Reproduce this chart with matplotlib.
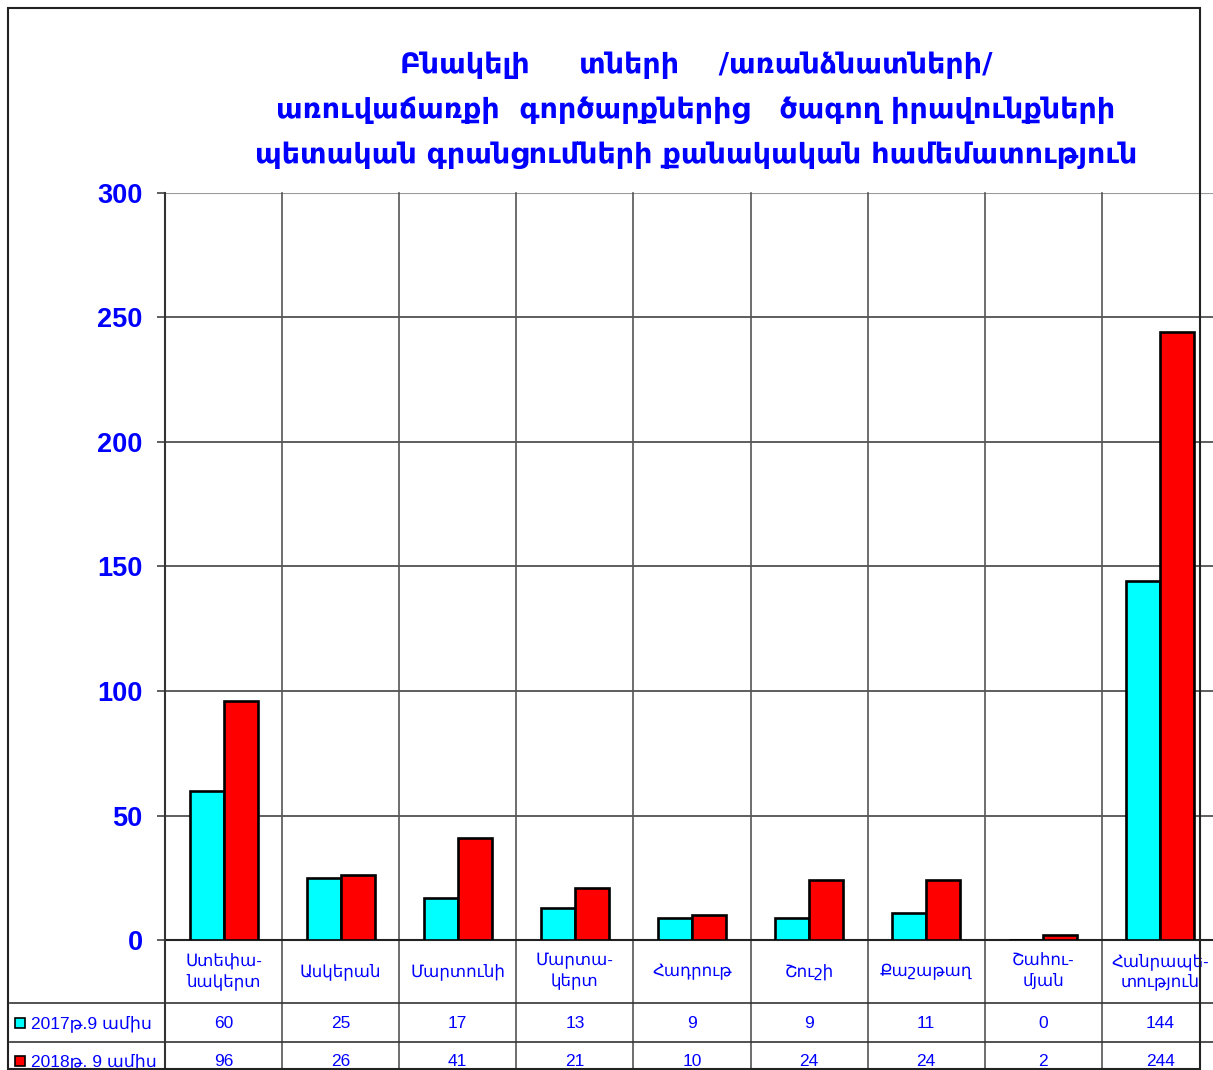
import matplotlib
matplotlib.use("Agg")
import matplotlib.pyplot as plt
from matplotlib.patches import Rectangle
from matplotlib.lines import Line2D
import matplotlib.transforms as mtrans

categories = ["Ստեփա-\nնակերտ", "Ասկերան", "Մարտունի", "Մարտա-\nկերտ", "Հադրութ",
              "Շուշի", "Քաշաթաղ", "Շահու-\nմյան", "Հանրապե-\nտություն"]
series_names = ["2017թ.9 ամիս", "2018թ. 9 ամիս"]
values_2017 = [60, 25, 17, 13, 9, 9, 11, 0, 144]
values_2018 = [96, 26, 41, 21, 10, 24, 24, 2, 244]
yticks = [0, 50, 100, 150, 200, 250, 300]
title_lines = ["Բնակելի     տների    /առանձնատների/",
               "առուվաճառքի  գործարքներից   ծագող իրավունքների",
               "պետական գրանցումների քանակական համեմատություն"]

W, H = 1213, 1070
fig = plt.figure(figsize=(W / 100, H / 100), dpi=100)
BLUE = "#0000ff"
CYAN = "#00ffff"
RED = "#ff0000"

def fx(px):
    return px / W

def fy(py):
    return 1 - py / H

ax_l, ax_r, ax_t, ax_b = 165, 1219, 193, 940
ax = fig.add_axes([fx(ax_l), fy(ax_b), fx(ax_r - ax_l), fy(ax_t) - fy(ax_b)])
ax.set_xlim(-0.5, len(categories) - 0.5)
ax.set_ylim(0, 300)

bw = 0.29
xs = list(range(len(categories)))
ax.bar([x - bw / 2 for x in xs], values_2017, width=bw, color=CYAN,
       edgecolor="black", linewidth=1.9, zorder=3)
ax.bar([x + bw / 2 for x in xs], values_2018, width=bw, color=RED,
       edgecolor="black", linewidth=1.9, zorder=3)

for v in yticks[1:-1]:
    ax.axhline(v, color="#333333", linewidth=1.1, zorder=1)
ax.axhline(300, color="#999999", linewidth=1.5, zorder=1)

ax.set_yticks(yticks)
ax.set_yticklabels([str(v) for v in yticks], fontsize=19.5, fontweight="bold",
                   color=BLUE, family="Liberation Sans")
ax.tick_params(axis="y", length=6, width=1.1, pad=10, color="#333333")
ax.set_xticks([])
for s in ["top", "right"]:
    ax.spines[s].set_visible(False)
ax.spines["left"].set_color("#333333")
ax.spines["left"].set_linewidth(1.5)
ax.spines["bottom"].set_color("#222222")
ax.spines["bottom"].set_linewidth(1.5)

# Table geometry (pixels)
row1_b, row2_b, tab_b = 1003, 1042, 1069
ax_h = ax_b - ax_t
def ay(py):
    return -(py - ax_b) / ax_h

trans = mtrans.blended_transform_factory(ax.transData, ax.transAxes)
for k in range(1, len(categories)):
    ax.add_line(Line2D([k - 0.5, k - 0.5], [ay(tab_b), 1.0], transform=trans,
                       color="#555555", linewidth=1.2, clip_on=False, zorder=1))

# horizontal table rows (figure coords)
for py in (row1_b, row2_b):
    fig.add_artist(Line2D([fx(10), fx(1213)], [fy(py), fy(py)], color="#333333",
                          linewidth=1.2))
# legend column vertical line
fig.add_artist(Line2D([fx(165), fx(165)], [fy(ax_b), fy(tab_b)], color="#333333",
                      linewidth=1.5))

# category labels
for i, c in enumerate(categories):
    ax.text(i, ay((ax_b + row1_b) / 2), c, transform=trans, ha="center", va="center",
            fontsize=12, color=BLUE, family=["Liberation Sans", "DejaVu Sans"],
            linespacing=1.3, clip_on=False)

# values
for i in range(len(categories)):
    ax.text(i, ay((row1_b + row2_b) / 2 + 1), str(values_2017[i]), transform=trans,
            ha="center", va="center", fontsize=12.5, color=BLUE,
            family="Liberation Sans", clip_on=False)
    ax.text(i, ay(1061), str(values_2018[i]), transform=trans,
            ha="center", va="center", fontsize=12.5, color=BLUE,
            family="Liberation Sans", clip_on=False)

# legend keys in table
for py, col, name in ((1023, CYAN, series_names[0]), (1061, RED, series_names[1])):
    fig.add_artist(Rectangle((fx(15), fy(py + 5)), fx(10), fy(py - 5) - fy(py + 5),
                             facecolor=col, edgecolor="black", linewidth=1.2))
    fig.text(fx(31), fy(py + 1), name, ha="left", va="center", fontsize=12.5,
             color=BLUE, family=["Liberation Sans", "DejaVu Sans"])

# mask below frame
fig.add_artist(Rectangle((0, 0), 1, fy(1069), facecolor="white", edgecolor="none",
                         zorder=10))

# outer frame
fig.add_artist(Rectangle((fx(8), fy(1069)), fx(1200 - 8), fy(8) - fy(1069),
                         facecolor="none", edgecolor="#222222", linewidth=1.5, zorder=11))

# title
for j, (line, py) in enumerate(zip(title_lines, (65, 110, 155))):
    fig.text(fx(696), fy(py), line, ha="center", va="center", fontsize=20.5,
             fontweight="bold", color=BLUE, family="DejaVu Sans")

fig.savefig("out.png", dpi=100, facecolor="white")
